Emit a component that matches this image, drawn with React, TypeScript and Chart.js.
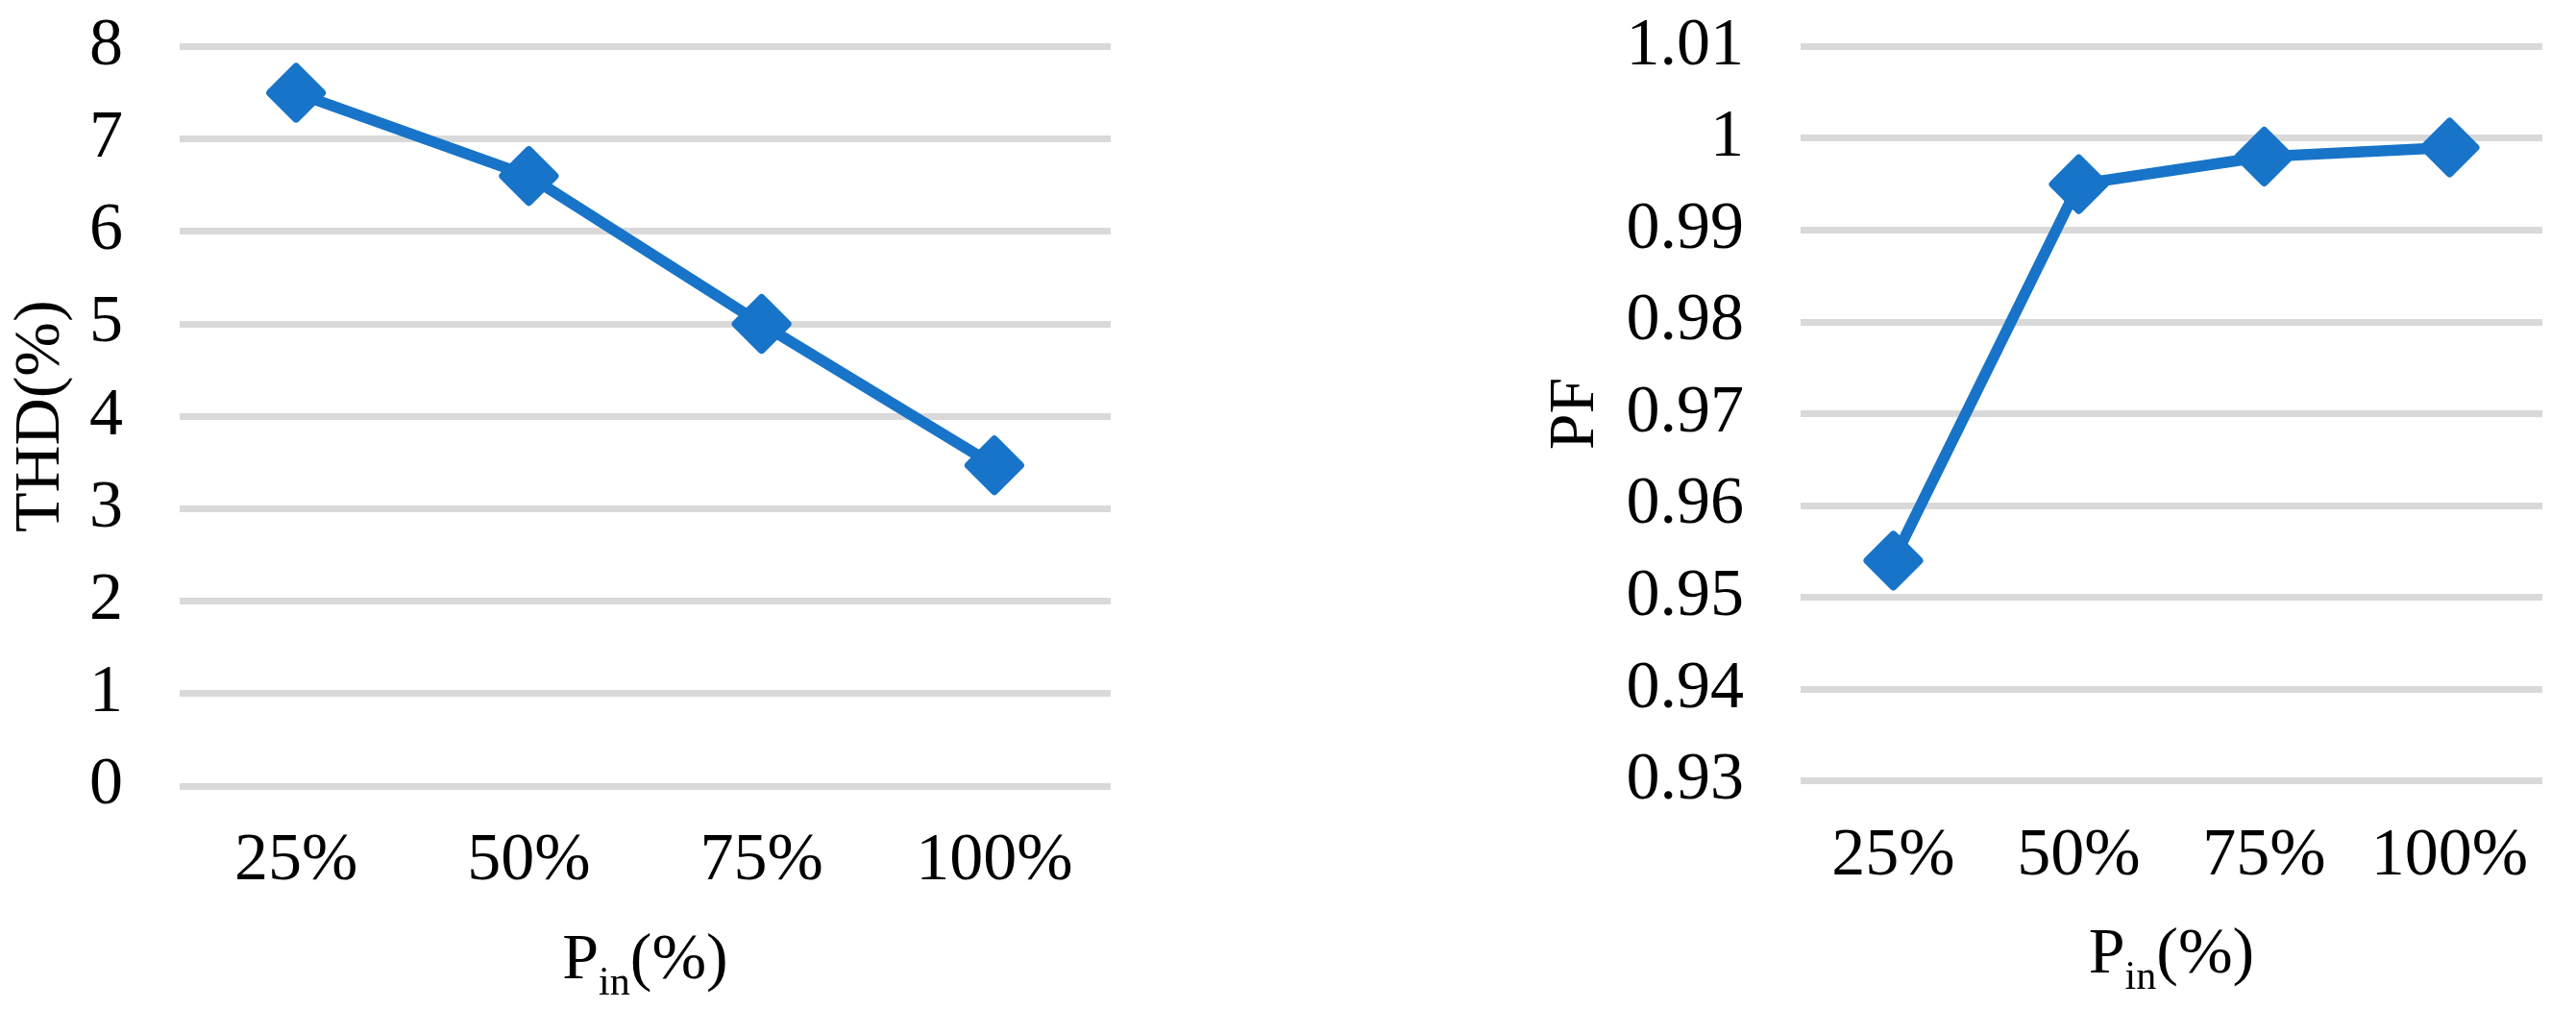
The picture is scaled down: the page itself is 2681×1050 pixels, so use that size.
import React, { useEffect, useRef } from 'react';
import { Chart, registerables } from 'chart.js';

Chart.register(...registerables);

// ---- data ----
const categories: string[] = ['25%', '50%', '75%', '100%'];
const thdValues: number[] = [7.5, 6.6, 5.0, 3.47];
const pfValues: number[] = [0.954, 0.995, 0.998, 0.999];
const thdTicks: number[] = [0, 1, 2, 3, 4, 5, 6, 7, 8];
const pfTicks: number[] = [0.93, 0.94, 0.95, 0.96, 0.97, 0.98, 0.99, 1, 1.01];
const thdTitle = 'THD(%)';
const pfTitle = 'PF';
const xTitleMain = 'P';
const xTitleSub = 'in';
const xTitleRest = '(%)';

const FONT = '"Liberation Serif", "Times New Roman", serif';
const LINE_COLOR = '#1874c8';
const GRID_COLOR = '#d9d9d9';

const subTitlePlugin = {
  id: 'subTitle',
  beforeDatasetsDraw(chart: any) {
    chart.ctx.lineJoin = 'round';
  },
  afterDraw(chart: any, _args: any, opts: any) {
    const { ctx, chartArea } = chart;
    ctx.save();
    ctx.fillStyle = '#000';
    ctx.textBaseline = 'alphabetic';
    ctx.textAlign = 'left';
    const big = `68px ${FONT}`;
    const small = `42px ${FONT}`;
    ctx.font = big;
    const wP = ctx.measureText(xTitleMain).width;
    const wR = ctx.measureText(xTitleRest).width;
    ctx.font = small;
    const wS = ctx.measureText(xTitleSub).width;
    const total = wP + wS + wR;
    let x = (chartArea.left + chartArea.right) / 2 - total / 2;
    const y = chartArea.bottom + opts.offset;
    ctx.font = big;
    ctx.fillText(xTitleMain, x, y);
    x += wP;
    ctx.font = small;
    ctx.fillText(xTitleSub, x, y + 17);
    x += wS;
    ctx.font = big;
    ctx.fillText(xTitleRest, x, y);
    ctx.restore();
  },
};

function makeConfig(
  values: number[],
  ticks: number[],
  yTitle: string,
  yWidth: number,
  topPad: number,
  xHeight: number,
  rightPad: number
): any {
  const step = Math.round((ticks[1] - ticks[0]) * 1000) / 1000;
  return {
    type: 'line',
    data: {
      labels: categories,
      datasets: [
        {
          data: values,
          borderColor: LINE_COLOR,
          backgroundColor: LINE_COLOR,
          borderWidth: 11.5,
          borderJoinStyle: 'round',
          borderCapStyle: 'round',
          pointStyle: 'rectRot',
          pointRadius: 27,
          pointBorderWidth: 8,
          pointBackgroundColor: LINE_COLOR,
          pointBorderColor: LINE_COLOR,
          tension: 0,
          fill: false,
        },
      ],
    },
    options: {
      animation: false,
      responsive: false,
      maintainAspectRatio: false,
      layout: { padding: { top: topPad, right: rightPad, left: 0, bottom: 0 } },
      plugins: {
        legend: { display: false },
        tooltip: { enabled: false },
        subTitle: { offset: 199.5 },
      },
      scales: {
        x: {
          type: 'category',
          offset: true,
          grid: { display: false, drawTicks: false },
          border: { display: false },
          ticks: {
            color: '#000',
            font: { family: FONT, size: 70 },
            padding: 37,
            maxRotation: 0,
            autoSkip: false,
          },
          afterFit: (s: any) => {
            s.height = xHeight;
            s.paddingLeft = 0;
            s.paddingRight = 0;
          },
        },
        y: {
          min: ticks[0],
          max: ticks[ticks.length - 1],
          grid: { color: GRID_COLOR, lineWidth: 7, drawTicks: false },
          border: { display: false },
          ticks: {
            stepSize: step,
            color: '#000',
            font: { family: FONT, size: 70 },
            padding: 59,
            callback: (v: any) => String(Math.round(Number(v) * 1000) / 1000),
          },
          title: {
            display: true,
            text: yTitle,
            color: '#000',
            font: { family: FONT, size: 68 },
            padding: { top: 2, bottom: 0 },
          },
          afterFit: (s: any) => {
            s.width = yWidth;
            s.paddingTop = 0;
            s.paddingBottom = 0;
          },
        },
      },
    },
    plugins: [subTitlePlugin],
  };
}

function ChartCanvas(props: { config: any; left: number; width: number; height: number }) {
  const ref = useRef<HTMLCanvasElement | null>(null);
  useEffect(() => {
    if (!ref.current) return;
    const chart = new Chart(ref.current, props.config);
    return () => chart.destroy();
  }, []);
  return (
    <canvas
      ref={ref}
      width={props.width}
      height={props.height}
      style={{
        position: 'absolute',
        left: props.left,
        top: 0,
        width: props.width,
        height: props.height,
      }}
    />
  );
}

export default function App() {
  const leftConfig = makeConfig(thdValues, thdTicks, thdTitle, 187, 48.5, 232, 144);
  const rightConfig = makeConfig(pfValues, pfTicks, pfTitle, 277, 48.4, 237.3, 20);
  return (
    <div
      style={{
        position: 'absolute',
        left: 0,
        top: 0,
        width: 2681,
        height: 1050,
        background: '#fff',
        overflow: 'hidden',
      }}
    >
      <ChartCanvas config={leftConfig} left={0} width={1300} height={1050} />
      <ChartCanvas config={rightConfig} left={1597} width={1084} height={1050} />
    </div>
  );
}
